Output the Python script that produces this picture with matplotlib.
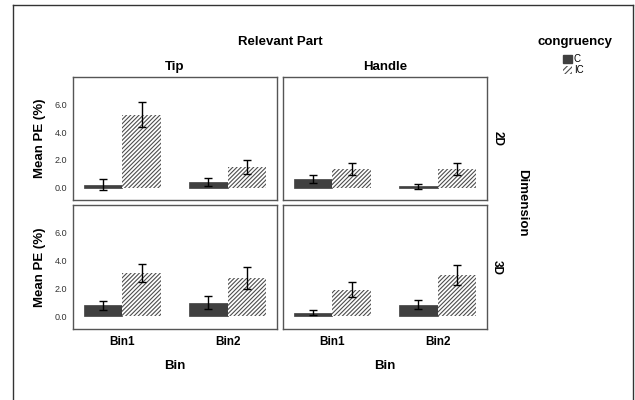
import numpy as np
import matplotlib
matplotlib.use("Agg")
import matplotlib.pyplot as plt
from matplotlib.patches import Patch
from matplotlib.lines import Line2D

plt.rcParams["font.family"] = ["Liberation Sans", "DejaVu Sans"]
plt.rcParams["hatch.color"] = "#4d4d4d"
plt.rcParams["hatch.linewidth"] = 0.8

bins = ["Bin1", "Bin2"]
parts = ["Tip", "Handle"]
dims = ["2D", "3D"]

# mean PE (%) per (dimension, part): [Bin1, Bin2]
c_mean = {("2D", "Tip"): [0.22, 0.42], ("2D", "Handle"): [0.62, 0.08],
          ("3D", "Tip"): [0.81, 1.00], ("3D", "Handle"): [0.28, 0.84]}
c_err = {("2D", "Tip"): [0.38, 0.29], ("2D", "Handle"): [0.28, 0.20],
         ("3D", "Tip"): [0.33, 0.44], ("3D", "Handle"): [0.21, 0.33]}
ic_mean = {("2D", "Tip"): [5.27, 1.50], ("2D", "Handle"): [1.37, 1.34],
           ("3D", "Tip"): [3.12, 2.76], ("3D", "Handle"): [1.93, 2.98]}
ic_err = {("2D", "Tip"): [0.92, 0.51], ("2D", "Handle"): [0.43, 0.41],
          ("3D", "Tip"): [0.62, 0.77], ("3D", "Handle"): [0.55, 0.73]}
yticks = [0.0, 2.0, 4.0, 6.0]

W, H = 635, 400
fig = plt.figure(figsize=(W / 100, H / 100), dpi=100)

def px_axes(x0, y0, x1, y1):
  return fig.add_axes([x0 / W, 1 - y1 / H, (x1 - x0) / W, (y1 - y0) / H])

xs = {"Tip": (73, 277), "Handle": (283, 487)}
ys = {"2D": (77, 200), "3D": (205, 329)}
w = 0.37
x = np.arange(len(bins))
dark = "#404040"
hatch = "////////"

for d in dims:
  for p in parts:
    ax = px_axes(xs[p][0], ys[d][0], xs[p][1], ys[d][1])
    ax.bar(x - w / 2, c_mean[(d, p)], w, color=dark, edgecolor=dark, linewidth=0.5)
    ax.bar(x + w / 2, ic_mean[(d, p)], w, color="white", edgecolor="#4d4d4d",
           hatch=hatch, linewidth=0)
    ax.errorbar(x - w / 2, c_mean[(d, p)], yerr=c_err[(d, p)], fmt="none",
                ecolor="black", elinewidth=1, capsize=3.2, capthick=1)
    ax.errorbar(x + w / 2, ic_mean[(d, p)], yerr=ic_err[(d, p)], fmt="none",
                ecolor="black", elinewidth=1, capsize=3.2, capthick=1)
    ax.set_xlim(-0.47, 1.47)
    ax.set_ylim(-0.9, 8.0)
    for s in ax.spines.values():
      s.set_color("#555555")
      s.set_linewidth(1.0)
    ax.set_yticks(yticks)
    ax.set_xticks(x)
    ax.tick_params(length=0, pad=4)
    if p == "Tip":
      ax.set_yticklabels(["%.1f" % v for v in yticks], fontsize=6.5, color="#333333")
      ax.set_ylabel("Mean PE (%)", fontsize=9.5, fontweight="bold", labelpad=6)
    else:
      ax.set_yticklabels([])
    if d == "3D":
      ax.set_xticklabels(bins, fontsize=8.5, fontweight="bold")
      ax.tick_params(axis="x", pad=5)
      ax.set_xlabel("Bin", fontsize=9.5, fontweight="bold", labelpad=9)
    else:
      ax.set_xticklabels([])
    if d == "2D":
      ax.set_title(p, fontsize=9.5, fontweight="bold", pad=5)
    if p == "Handle":
      ax.text(1.05, 0.5, d, transform=ax.transAxes, rotation=-90, ha="center",
              va="center", fontsize=8.5, fontweight="bold")

fig.text(280 / W, 1 - 42 / H, "Relevant Part", ha="center", va="center",
         fontsize=9.5, fontweight="bold")
fig.text(522 / W, 1 - 203 / H, "Dimension", ha="center", va="center",
         rotation=-90, fontsize=9.5, fontweight="bold")
fig.text(575 / W, 1 - 42 / H, "congruency", ha="center", va="center",
         fontsize=9.5, fontweight="bold")

handles = [Patch(facecolor=dark, edgecolor=dark, label="C"),
           Patch(facecolor="white", edgecolor="#4d4d4d", hatch="//////",
                 linewidth=0, label="IC")]
fig.legend(handles=handles, loc="upper left", bbox_to_anchor=(563 / W, 1 - 54 / H),
           frameon=False, fontsize=7, handlelength=0.9, handleheight=0.9,
           handletextpad=0.2, labelspacing=0.1, borderpad=0, borderaxespad=0)

# outer frame
for xy in [([13, 13], [5, 402]), ([13, 633], [5, 5]), ([633, 633], [5, 402])]:
  fig.add_artist(Line2D([v / W for v in xy[0]], [1 - v / H for v in xy[1]],
                        color="#333333", linewidth=1.0))

fig.savefig("out.png", dpi=100)
